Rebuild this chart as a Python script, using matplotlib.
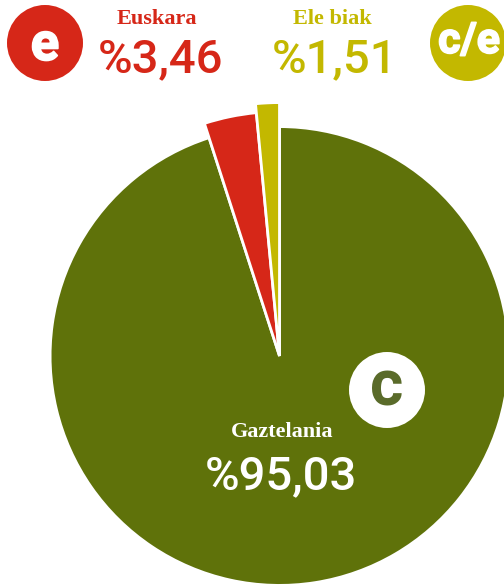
import matplotlib
matplotlib.use("Agg")
import matplotlib.pyplot as plt
import matplotlib.patheffects as pe
from matplotlib.patches import Circle

labels = ["Gaztelania", "Euskara", "Ele biak"]
values = [95.03, 3.46, 1.51]
value_texts = ["%95,03", "%3,46", "%1,51"]
badges = ["c", "e", "c/e"]
colors = ["#5f720a", "#d62718", "#c3b800"]
radii = [229.4, 244.4, 253.4]

H = 586
fig = plt.figure(figsize=(5.04, 5.86), dpi=100, facecolor="white")
ax = fig.add_axes([0, 0, 1, 1])
wedges, _ = ax.pie(values, colors=colors, startangle=90, counterclock=False,
                   center=(279.5, H - 356), radius=228,
                   wedgeprops=dict(edgecolor="white", linewidth=2.0, joinstyle="miter"))
for w, r in zip(wedges, radii):
    w.set_radius(r)
ax.set_xlim(0, 504)
ax.set_ylim(0, H)
ax.set_aspect("equal")
ax.axis("off")

slab = "Liberation Serif"
num = "Roboto"

def T(x, y, s, **kw):
    return ax.text(x, H - y, s, ha="center", va="baseline", **kw)

# Headings and percentages
T(156.5, 24, labels[1], family=slab, weight="bold", fontsize=16, color=colors[1])
T(160, 72, value_texts[1], family=num, weight="medium", fontsize=34, color=colors[1])
T(332, 24, labels[2], family=slab, weight="bold", fontsize=16, color=colors[2])
T(335, 72, value_texts[2], family=num, weight="medium", fontsize=34, color=colors[2])
T(282, 437, labels[0], family=slab, weight="bold", fontsize=16, color="white")
T(281, 489, value_texts[0], family=num, weight="medium", fontsize=34, color="white")

# Badges
for cx, cy, fc in [(45, 43, colors[1]), (468, 43, colors[2]), (387, 390, "white")]:
    ax.add_patch(Circle((cx, H - cy), 38, facecolor=fc, edgecolor="none", clip_on=False))
round_w = [pe.withStroke(linewidth=1.2, foreground="white", joinstyle="round")]
T(45, 60, badges[1], family="Roboto", weight="bold", fontsize=38, color="white", path_effects=round_w)
T(469, 53, badges[2], family="Roboto", weight="bold", fontsize=31, color="white", path_effects=round_w)
T(387, 405, badges[0], family="Roboto", weight="bold", fontsize=46, color="#5a6b2a")

fig.savefig("out.png", dpi=100, facecolor="white")
